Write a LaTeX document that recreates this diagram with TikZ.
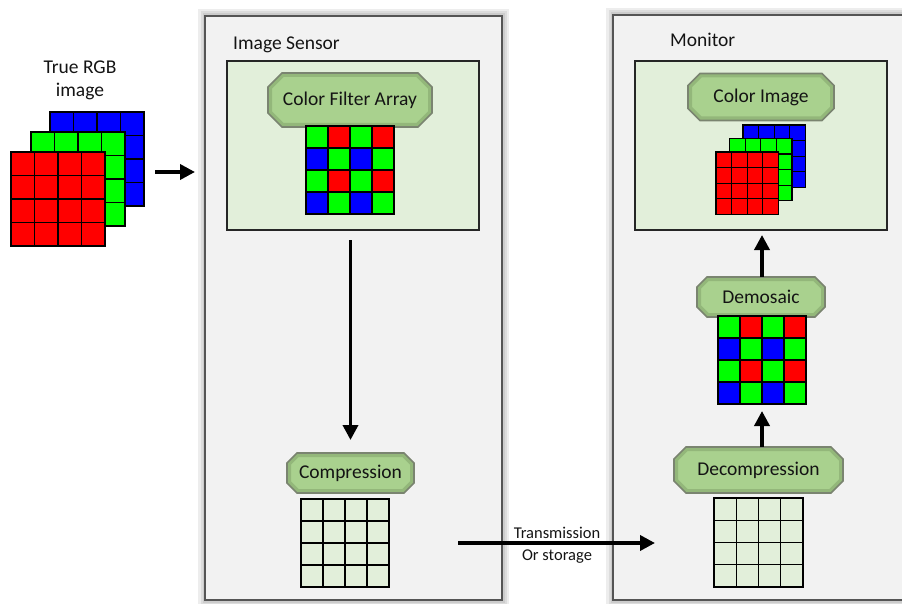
\documentclass[tikz,border=0pt]{standalone}
\usepackage{fontspec}
\setmainfont{Carlito}
\usetikzlibrary{arrows.meta}

\pgfdeclarelayer{shade}
\pgfdeclarelayer{back}
\pgfdeclarelayer{mid}
\pgfsetlayers{shade,back,mid,main}

\definecolor{panelfill}{RGB}{242,242,242}
\definecolor{panelline}{RGB}{85,85,85}
\definecolor{boxfill}{RGB}{226,239,218}
\definecolor{octfill}{RGB}{169,209,142}
\definecolor{octline}{RGB}{122,132,112}
\definecolor{octedge}{RGB}{70,95,55}
\definecolor{pixR}{RGB}{255,0,0}
\definecolor{pixG}{RGB}{0,255,0}
\definecolor{pixB}{RGB}{0,0,255}
\definecolor{ink}{RGB}{20,20,20}

\tikzset{
  panel/.style={draw=panelline, line width=1.4pt, fill=panelfill, inner sep=0pt, outer sep=0pt},
  stage/.style={draw=black!85, line width=1.4pt, fill=boxfill, inner sep=0pt, outer sep=0pt},
  octbody/.style={fill=octfill},
  octglow/.style={draw=octedge, line width=8pt, opacity=0.22},
  octrim/.style={draw=octline, line width=1.6pt},
  octtext/.style={inner sep=0pt, outer sep=0pt, text=ink, font=\fontsize{19.5}{23}\selectfont},
  caption/.style={inner sep=0pt, text=ink, font=\fontsize{19.5}{23}\selectfont},
  smallcaption/.style={inner sep=0pt, text=ink, align=center, font=\fontsize{16.5}{22}\selectfont},
  cell/.style={draw=black, line width=1.2pt},
  gridspot/.style={inner sep=0pt, outer sep=0pt},
  flow/.style={line width=3.6pt, -{Triangle[length=15pt,width=15pt]}},
  halo/.style={line width=#1, black, opacity=0.07}
}

% soft shadow round a rectangle given by two corners
\newcommand\softshadow[2]{%
  \begin{pgfonlayer}{shade}
    \foreach \hw in {14pt,9pt,5pt}{\draw[halo=\hw] (#1) rectangle (#2);}
  \end{pgfonlayer}}

% outline of a chamfered label round node #1 with chamfer #2
\newcommand\octoutline[2]{([xshift=#2]#1.north west) -- ([xshift=-#2]#1.north east)
      -- ([yshift=-#2]#1.north east) -- ([yshift=#2]#1.south east)
      -- ([xshift=-#2]#1.south east) -- ([xshift=#2]#1.south west)
      -- ([yshift=#2]#1.south west) -- ([yshift=-#2]#1.north west) -- cycle}

% chamfered label: name, centre, width, height, chamfer, text
\newcommand\octnode[6]{%
  \node[octtext, minimum width=#3, minimum height=#4] (#1) at (#2) {#6};
  \begin{pgfonlayer}{mid}
    \fill[octbody] \octoutline{#1}{#5};
    \begin{scope}
      \clip \octoutline{#1}{#5};
      \draw[octglow] \octoutline{#1}{#5};
    \end{scope}
    \draw[octrim] \octoutline{#1}{#5};
  \end{pgfonlayer}}

% 4x4 Bayer mosaic: name, left, top, cell
\newcommand\bayer[4]{%
  \foreach \r in {0,...,3}{\foreach \c in {0,...,3}{%
    \pgfmathtruncatemacro\oddsum{mod(\r+\c,2)}%
    \pgfmathtruncatemacro\oddrow{mod(\r,2)}%
    \ifnum\oddsum=0 \def\cc{pixG}\else\ifnum\oddrow=0 \def\cc{pixR}\else\def\cc{pixB}\fi\fi
    \filldraw[cell, fill=\cc] ({#2+\c*#4},{#3+\r*#4}) rectangle ++(#4,#4);}}
  \node[gridspot, minimum size=4*#4] (#1) at ({#2+2*#4},{#3+2*#4}) {};}

% 4x4 grid of one colour: name, left, top, cell, colour
\newcommand\plaingrid[5]{%
  \foreach \r in {0,...,3}{\foreach \c in {0,...,3}{%
    \filldraw[cell, fill=#5] ({#2+\c*#4},{#3+\r*#4}) rectangle ++(#4,#4);}}
  \node[gridspot, minimum size=4*#4] (#1) at ({#2+2*#4},{#3+2*#4}) {};}

\begin{document}
\begin{tikzpicture}[x=1pt, y=-1pt]
  \useasboundingbox (0,0) rectangle (902,604);

  % panels
  \begin{pgfonlayer}{back}
    \node[panel, minimum width=297pt, minimum height=584pt] (sensor) at (353.5,308) {};
    \node[panel, minimum width=297pt, minimum height=585pt] (monitor) at (761.5,307.5) {};
    \node[stage, minimum width=252pt, minimum height=169pt] (cfabox) at (353,145.5) {};
    \node[stage, minimum width=252pt, minimum height=169pt] (colorbox) at (761,145.5) {};
  \end{pgfonlayer}
  \softshadow{sensor.north west}{sensor.south east}
  \softshadow{monitor.north west}{monitor.south east}
  \softshadow{cfabox.north west}{cfabox.south east}
  \softshadow{colorbox.north west}{colorbox.south east}

  \node[caption, anchor=base west] (sensorlabel) at (233,50) {Image Sensor};
  \node[caption, anchor=base west] (monitorlabel) at (670,47) {Monitor};

  % input image: three colour planes
  \node[caption, align=center] (truelabel) at (80,80) {True RGB\\image};
  \plaingrid{inB}{50}{112}{23.5}{pixB}
  \plaingrid{inG}{31}{132}{23.5}{pixG}
  \plaingrid{inR}{11}{152}{23.5}{pixR}

  % sensor side
  \octnode{cfa}{350,100}{164pt}{54pt}{14pt}{Color Filter Array}
  \bayer{cfagrid}{306}{126}{22}
  \octnode{comp}{350.5,473}{127pt}{40pt}{10pt}{Compression}
  \plaingrid{compgrid}{301}{499}{22}{boxfill}

  % monitor side
  \octnode{colimg}{761,97}{146pt}{47pt}{12pt}{Color Image}
  \plaingrid{outB}{743}{125}{15.6}{pixB}
  \plaingrid{outG}{729.5}{138.5}{15.6}{pixG}
  \plaingrid{outR}{716}{152}{15.6}{pixR}
  \octnode{demo}{761,297}{128pt}{40pt}{10pt}{Demosaic}
  \bayer{demgrid}{718}{316}{22}
  \octnode{decomp}{758.5,470}{169pt}{46pt}{12pt}{Decompression}
  \plaingrid{decgrid}{714}{498}{22.25}{boxfill}

  % connectors
  \coordinate (inexit) at (155,172);
  \coordinate (inentry) at (195,172);
  \draw[flow] (inexit) -- (inentry);
  \draw[flow] ([yshift=-10pt]cfabox.south -| comp.north) -- ([yshift=13pt]comp.north);
  \draw[flow] ([xshift=69pt]compgrid.east) -- ([xshift=-59pt]decgrid.west |- compgrid.east);
  \node[smallcaption] (txlabel) at (557,545.5) {Transmission\\Or storage};
  \draw[flow] (decomp.north -| demgrid.south) -- ([yshift=-7pt]demgrid.south);
  \draw[flow] (demo.north -| demgrid.north) -- ([yshift=-5pt]colorbox.south -| demgrid.north);
\end{tikzpicture}
\end{document}
